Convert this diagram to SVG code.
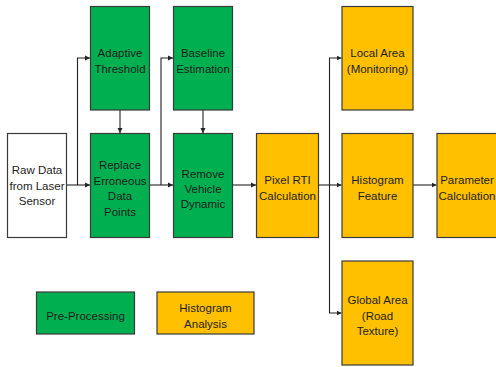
<svg xmlns="http://www.w3.org/2000/svg" width="496" height="367" viewBox="0 0 496 367">
<defs>
<style>
.b{stroke:#3a3a3a;stroke-width:1.2}
.w{fill:#ffffff}
.g{fill:#00b050}
.o{fill:#ffc000}
text{font-family:"Liberation Sans",Arial,sans-serif;font-size:11.5px;fill:#1e1e1e;text-anchor:middle}
.c{fill:none;stroke:#222;stroke-width:1.1}
</style>
<marker id="ah" markerWidth="6" markerHeight="6" refX="5" refY="3" orient="auto" markerUnits="userSpaceOnUse">
<path d="M0,0.5 L5,3 L0,5.5 Z" fill="#222"/>
</marker>
</defs>
<rect width="496" height="367" fill="#ffffff"/>
<g id="connectors">
<path class="c" d="M66.5 185 H90" marker-end="url(#ah)"/>
<path class="c" d="M77.5 185 V58 H90" marker-end="url(#ah)"/>
<path class="c" d="M120 110 V133" marker-end="url(#ah)"/>
<path class="c" d="M149.5 185 H173" marker-end="url(#ah)"/>
<path class="c" d="M161 185 V58 H173" marker-end="url(#ah)"/>
<path class="c" d="M203 110 V133" marker-end="url(#ah)"/>
<path class="c" d="M232.5 185 H256" marker-end="url(#ah)"/>
<path class="c" d="M318.5 185 H341.5" marker-end="url(#ah)"/>
<path class="c" d="M329.5 185 V58 H341.5" marker-end="url(#ah)"/>
<path class="c" d="M329.5 185 V313 H341.5" marker-end="url(#ah)"/>
<path class="c" d="M413 185 H436.5" marker-end="url(#ah)"/>
</g>
<g id="raw"><rect class="b w" x="7.5" y="133.5" width="59" height="104"/>
<text x="37" y="174">Raw Data</text><text x="37" y="190">from Laser</text><text x="37" y="205">Sensor</text></g>
<g id="adaptive"><rect class="b g" x="90.5" y="6.5" width="59" height="103.5"/>
<text x="120" y="57">Adaptive</text><text x="120" y="73">Threshold</text></g>
<g id="replace"><rect class="b g" x="90.5" y="133.5" width="59" height="104"/>
<text x="120" y="169">Replace</text><text x="120" y="184.5">Erroneous</text><text x="120" y="200">Data</text><text x="120" y="215.5">Points</text></g>
<g id="baseline"><rect class="b g" x="173.5" y="6.5" width="59" height="103.5"/>
<text x="203" y="57">Baseline</text><text x="203" y="73">Estimation</text></g>
<g id="remove"><rect class="b g" x="173.5" y="133.5" width="59" height="104"/>
<text x="203" y="177.5">Remove</text><text x="203" y="192.5">Vehicle</text><text x="203" y="208">Dynamic</text></g>
<g id="pixel"><rect class="b o" x="256.5" y="133.5" width="62" height="104"/>
<text x="287.5" y="184">Pixel RTI</text><text x="287.5" y="200">Calculation</text></g>
<g id="local"><rect class="b o" x="342" y="6.5" width="71" height="103.5"/>
<text x="377.5" y="57">Local Area</text><text x="377.5" y="73">(Monitoring)</text></g>
<g id="histfeat"><rect class="b o" x="342" y="133.5" width="71" height="104"/>
<text x="377.5" y="184">Histogram</text><text x="377.5" y="200">Feature</text></g>
<g id="param"><rect class="b o" x="437" y="133.5" width="70" height="104"/>
<text x="467" y="184">Parameter</text><text x="467" y="200">Calculation</text></g>
<g id="global"><rect class="b o" x="342" y="261" width="71" height="104"/>
<text x="377.5" y="304">Global Area</text><text x="377.5" y="320">(Road</text><text x="377.5" y="335">Texture)</text></g>
<g id="legend-pre"><rect class="b g" x="36.5" y="292" width="98" height="42"/>
<text x="85.5" y="320">Pre-Processing</text></g>
<g id="legend-hist"><rect class="b o" x="157" y="292" width="97" height="42"/>
<text x="205.5" y="312">Histogram</text><text x="205.5" y="328">Analysis</text></g>
</svg>
